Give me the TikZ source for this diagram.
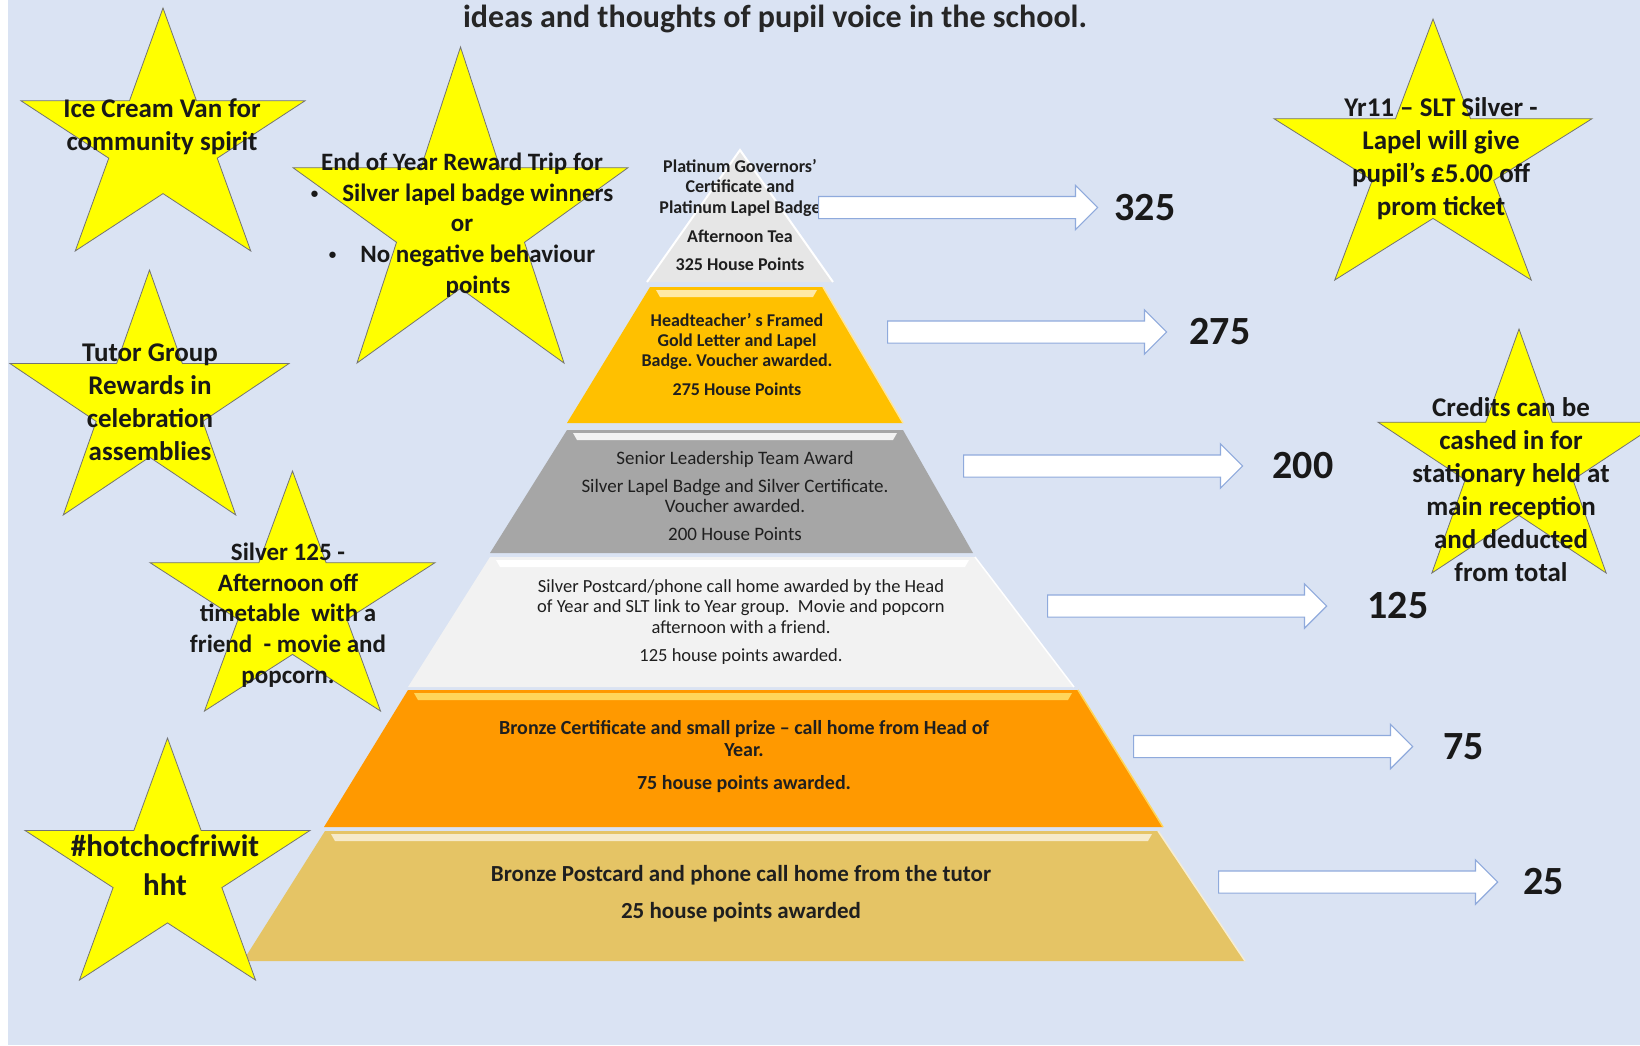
\documentclass[tikz,border=0pt]{standalone}
\usepackage{fontspec}
\setmainfont{Carlito}
\frenchspacing
\usetikzlibrary{positioning,shapes.arrows}
\definecolor{pagebg}{RGB}{218,227,243}
\definecolor{staryellow}{RGB}{255,255,0}
\definecolor{arrowblue}{RGB}{143,170,220}
\definecolor{platinum}{RGB}{230,230,230}
\definecolor{goldtier}{RGB}{255,192,0}
\definecolor{silvertier}{RGB}{166,166,166}
\definecolor{whitetier}{RGB}{242,242,242}
\definecolor{orangetier}{RGB}{255,153,0}
\definecolor{orangeglow}{RGB}{255,214,90}
\definecolor{bronzetier}{RGB}{229,196,101}
\tikzset{%
	tiertext/.style  = {align=center, inner sep=0pt, text=black!88}, % text on a tier
	startext/.style  = {align=center, inner sep=0pt, text=black!90, font=\bfseries\fontsize{27}{33}\selectfont}, % text on a star
	starbody/.style  = {draw=black!55, line width=0.8pt, fill=staryellow}, % star
	pointer/.style   = {single arrow, draw=arrowblue, fill=white, line width=1.2pt,
		minimum height=279pt, inner xsep=0pt, inner ysep=10.5pt, text height=0pt, text depth=0pt,
		single arrow head extend=11pt, single arrow tip angle=90, single arrow head indent=0pt}, % block arrow
	points/.style    = {inner sep=0pt, text=black!90, font=\bfseries\fontsize{40}{48}\selectfont}, % house points
}
% five-pointed star: centre x, centre y, radius x, radius y
\newcommand{\rewardstar}[4]{%
	\draw[starbody] ({#1},{#2-#4})
	\foreach \k in {1,...,9} {-- ({#1+#3*(1-0.618*mod(\k,2))*cos(-90+36*\k)},{#2+#4*(1-0.618*mod(\k,2))*sin(-90+36*\k)})} -- cycle;
}
% small list bullet
\newcommand{\tripbullet}{\raisebox{3pt}{\fontsize{15}{15}\selectfont\textbullet}}

\begin{document}
\begin{tikzpicture}[x=1pt, y=-1pt]
		\useasboundingbox (0,0) rectangle (1640,1045);
		\clip (0,0) rectangle (1640,1045);
		\fill[white] (0,0) rectangle (1640,1045);
		\fill[pagebg] (8,0) rectangle (1640,1045);
		
		% pyramid
		\fill[platinum] (740,150) -- (833,282) -- (647,282) -- cycle;
		\draw[white, line width=2pt] (647,282) -- (740,150) -- (833,282);
		\fill[goldtier] (650,287) -- (823,287) -- (903,423) -- (567,423) -- cycle;
		\fill[goldtier!35!white] (656,290) -- (817,290) -- (813,297) -- (660,297) -- cycle;
		\draw[goldtier!40!white, line width=1.5pt] (823,287) -- (903,423);
		\fill[silvertier] (567,430) -- (903,430) -- (973,553) -- (490,553) -- cycle;
		\fill[white!85!silvertier] (573,433) -- (897,433) -- (893,440) -- (577,440) -- cycle;
		\fill[whitetier] (490,557) -- (975,557) -- (1074,687) -- (408,687) -- cycle;
		\fill[white] (496,560) -- (969,560) -- (965,567) -- (500,567) -- cycle;
		\draw[white, line width=1.5pt] (975,557) -- (1074,687);
		\fill[orangetier] (408,690) -- (1078,690) -- (1163,827) -- (324,827) -- cycle;
		\fill[orangeglow] (414,693) -- (1072,693) -- (1068,700) -- (418,700) -- cycle;
		\draw[orangeglow, line width=1.5pt] (1078,690) -- (1163,827);
		\fill[bronzetier] (325,831) -- (1158,831) -- (1245,961) -- (243,961) -- cycle;
		\fill[bronzetier!35!white] (331,834) -- (1152,834) -- (1148,841) -- (335,841) -- cycle;
		\draw[bronzetier!30!white, line width=1.5pt] (1158,831) -- (1245,961);
		
		\node[tiertext, font=\bfseries\fontsize{18}{20.5}\selectfont] (platinumtext) at (740,215) {Platinum Governors’\\Certificate and\\Platinum Lapel Badge\\[8.5pt]Afternoon Tea\\[8pt]325 House Points};
		\node[tiertext, font=\bfseries\fontsize{18}{20}\selectfont] (goldtext) at (737,355) {Headteacher’ s Framed\\Gold Letter and Lapel\\Badge. Voucher awarded.\\[9pt]275 House Points};
		\node[tiertext, font=\fontsize{19}{20}\selectfont] (silvertext) at (735,496) {Senior Leadership Team Award\\[8pt]Silver Lapel Badge and Silver Certificate.\\Voucher awarded.\\[8pt]200 House Points};
		\node[tiertext, font=\fontsize{18.5}{20.5}\selectfont] (postcardtext) at (741,622) {Silver Postcard/phone call home awarded by the Head\\of Year and SLT link to Year group.\ \ Movie and popcorn\\afternoon with a friend.\\[7.5pt]125 house points awarded.};
		\node[tiertext, font=\bfseries\fontsize{20}{22}\selectfont] (bronzecerttext) at (744,757) {Bronze Certificate and small prize – call home from Head of\\Year.\\[11pt]75 house points awarded.};
		\node[tiertext, font=\bfseries\fontsize{23}{37}\selectfont] (bronzeposttext) at (741,894) {Bronze Postcard and phone call home from the tutor\\25 house points awarded};
		
		% stars
		\rewardstar{163}{142.3}{149.3}{134.3}
		\node[startext] (icecream) at (162,127) {Ice Cream Van for\\community spirit};
		\rewardstar{460.5}{221.7}{176.1}{174.7}
		\node[startext, font=\bfseries\fontsize{25}{30.8}\selectfont] (trip) at (462,225) {End of Year Reward Trip for\\\tripbullet\hspace{24pt}Silver lapel badge winners\\or\\\tripbullet\hspace{24pt}No negative behaviour\\\hspace*{32pt}points};
		\rewardstar{149.5}{405.4}{146.7}{135.4}
		\node[startext] (tutorgroup) at (150,402) {Tutor Group\\Rewards in\\celebration\\assemblies};
		\rewardstar{292.5}{603.7}{149.8}{132.7}
		\node[startext, font=\bfseries\fontsize{25}{30.8}\selectfont] (silver125) at (288,615) {Silver 125 -\\Afternoon off\\timetable\ \ with a\\friend\ \ - movie and\\popcorn.};
		\rewardstar{167.5}{871.8}{149.8}{133.8}
		\node[startext, font=\bfseries\fontsize{31}{39}\selectfont] (hotchoc) at (165,865) {\#hotchocfriwit\\hht};
		\rewardstar{1433}{163.3}{167.2}{144.3}
		\node[startext] (promticket) at (1441,159) {Yr11 – SLT Silver -\\Lapel will give\\pupil’s £5.00 off\\prom ticket};
		\rewardstar{1519}{463.9}{148.3}{134.9}
		\node[startext] (credits) at (1511,490) {Credits can be\\cashed in for\\stationary held at\\main reception\\and deducted\\from total};
		
		% arrows to the points
		\node[pointer, anchor=west] (a325) at (818,207.5) {};
		\node[points, right=16pt of a325] (n325) {325};
		\node[pointer, anchor=west] (a275) at (887,332) {};
		\node[points, right=22pt of a275] (n275) {275};
		\node[pointer, anchor=west] (a200) at (963,466) {};
		\node[points, right=29pt of a200] (n200) {200};
		\node[pointer, anchor=west] (a125) at (1047,606) {};
		\node[points, right=40pt of a125] (n125) {125};
		\node[pointer, anchor=west] (a75) at (1133,746.5) {};
		\node[points, right=30pt of a75] (n75) {75};
		\node[pointer, anchor=west] (a25) at (1218,882) {};
		\node[points, right=25pt of a25] (n25) {25};
		
		\node[inner sep=0pt, text=black!85, font=\bfseries\fontsize{32}{38}\selectfont] (heading) at (775,19) {ideas and thoughts of pupil voice in the school.};
		
\end{tikzpicture}
\end{document}
